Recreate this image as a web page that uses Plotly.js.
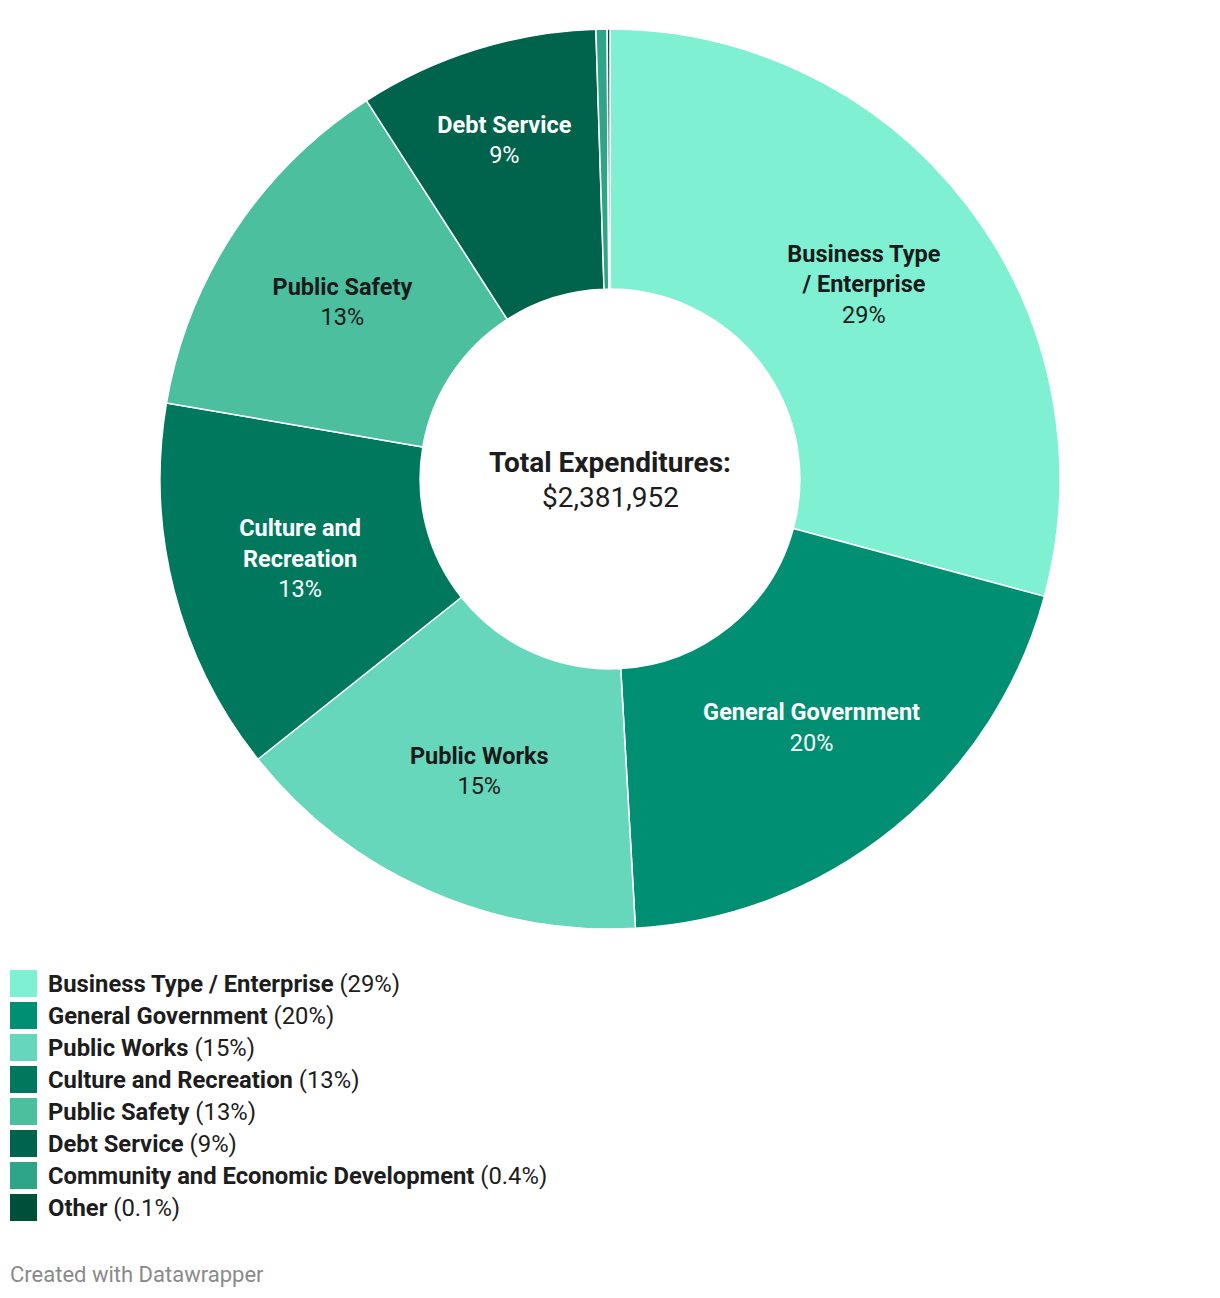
<!DOCTYPE html>
<html>
<head>
<meta charset="utf-8">
<script src="https://cdn.plot.ly/plotly-3.0.1.min.js"></script>
<style>html,body{margin:0;padding:0;background:#fff;}#chart{width:1220px;height:1298px;}</style>
</head>
<body>
<div id="chart"></div>
<script>
const categories = ["Business Type / Enterprise", "General Government", "Public Works", "Culture and Recreation", "Public Safety", "Debt Service", "Community and Economic Development", "Other"];
const sliceNames = ["Business Type<br>/ Enterprise", "General Government", "Public Works", "Culture and<br>Recreation", "Public Safety", "Debt Service", "", ""];
const shares = [29.2, 19.9, 15.2, 13.4, 13.2, 8.6, 0.4, 0.1];
const colors = ["#7ff0d2", "#008f72", "#66d7bb", "#00785d", "#4cbf9f", "#00634c", "#2fa588", "#004f3b"];
const textColors = ["#1a1a1a", "#ffffff", "#1a1a1a", "#ffffff", "#1a1a1a", "#ffffff", "#ffffff", "#ffffff"];
const totalLabel = "Total Expenditures:";
const totalValue = "$2,381,952";
const footer = "Created with Datawrapper";

function pct(v) { return v < 1 ? v.toFixed(1) + "%" : Math.round(v) + "%"; }

const sliceText = sliceNames.map((n, i) => n ? "<b>" + n + "</b><br>" + pct(shares[i]) : "");

const W = 1220, H = 1298;
const fontFam = "Roboto, 'Open Sans', sans-serif";

const shapes = [];
const annotations = [];
categories.forEach((c, i) => {
  const top = 970 + i * 32;
  shapes.push({type: "rect", xref: "paper", yref: "paper",
    x0: 10 / W, x1: 37 / W, y0: 1 - (top + 27) / H, y1: 1 - top / H,
    fillcolor: colors[i], line: {width: 0}});
  annotations.push({xref: "paper", yref: "paper", x: 46 / W, y: 1 - (top + 14) / H,
    xanchor: "left", yanchor: "middle", showarrow: false,
    text: "<b>" + c + "</b> (" + pct(shares[i]) + ")",
    font: {family: fontFam, size: 23.8, color: "#1d1d1d"}});
});
annotations.push({xref: "paper", yref: "paper", x: 610 / W, y: 1 - 463 / H,
  xanchor: "center", yanchor: "middle", showarrow: false,
  text: "<b>" + totalLabel + "</b>", font: {family: fontFam, size: 28, color: "#1d1d1d"}});
annotations.push({xref: "paper", yref: "paper", x: 610 / W, y: 1 - 497 / H,
  xanchor: "center", yanchor: "middle", showarrow: false,
  text: totalValue, font: {family: fontFam, size: 28, color: "#1d1d1d"}});
annotations.push({xref: "paper", yref: "paper", x: 8 / W, y: 1 - 1274 / H,
  xanchor: "left", yanchor: "middle", showarrow: false,
  text: footer, font: {family: fontFam, size: 22, color: "#8a8a8a"}});

const trace = {
  type: "pie",
  labels: categories,
  values: shares,
  text: sliceText,
  textinfo: "text",
  texttemplate: "%{text}",
  hoverinfo: "label+percent",
  textposition: "inside",
  insidetextorientation: "horizontal",
  insidetextfont: {family: fontFam, size: 23.5, color: textColors},
  hole: 0.422,
  sort: false,
  direction: "clockwise",
  rotation: 0,
  marker: {colors: colors, line: {color: "#ffffff", width: 1.5}},
  domain: {x: [160 / W, 1060 / W], y: [1 - 929 / H, 1 - 29 / H]},
  showlegend: false
};

const layout = {
  width: W, height: H,
  margin: {l: 0, r: 0, t: 0, b: 0},
  paper_bgcolor: "#ffffff",
  plot_bgcolor: "#ffffff",
  font: {family: fontFam},
  shapes: shapes,
  annotations: annotations,
  showlegend: false
};

Plotly.newPlot("chart", [trace], layout, {displayModeBar: false, staticPlot: true});
</script>
</body>
</html>
